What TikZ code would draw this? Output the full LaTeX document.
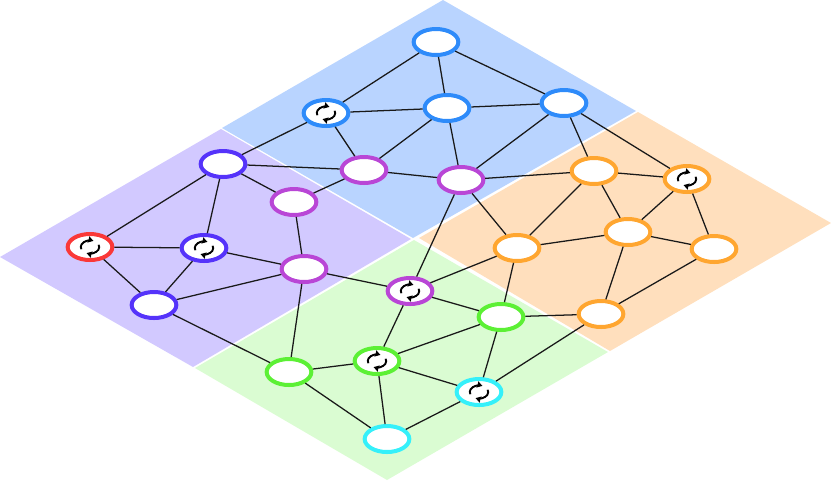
\documentclass[tikz,border=0pt]{standalone}
\usetikzlibrary{arrows.meta,shapes.geometric}
\definecolor{bluezone}{HTML}{B9D4FF}
\definecolor{purplezone}{HTML}{D2C9FF}
\definecolor{orangezone}{HTML}{FFDFBD}
\definecolor{greenzone}{HTML}{DAFCD2}
\definecolor{cblue}{HTML}{2E8BFA}
\definecolor{cpurple}{HTML}{B946D6}
\definecolor{cindigo}{HTML}{5533FA}
\definecolor{cred}{HTML}{FA3838}
\definecolor{corange}{HTML}{FFA630}
\definecolor{cgreen}{HTML}{5CF035}
\definecolor{ccyan}{HTML}{35F0FA}
\tikzset{
 x=0.75pt,y=-0.75pt,
 zone/.style={draw=none},
 host/.style={ellipse,draw=#1,fill=white,line width=3pt,minimum width=33.5pt,minimum height=19.5pt,inner sep=0pt},
 link/.style={line width=0.95pt,black!90},
 sync/.pic={
  \begin{scope}[x=0.75pt,y=0.75pt]
  \draw[line width=1.45pt,-{Stealth[length=4pt,width=4.8pt,inset=0.4pt]}] (200:9.2 and 6.6) arc[start angle=200,end angle=68,x radius=9.2,y radius=6.6];
  \draw[line width=1.45pt,-{Stealth[length=4pt,width=4.8pt,inset=0.4pt]}] (20:9.2 and 6.6) arc[start angle=20,end angle=-112,x radius=9.2,y radius=6.6];
  \end{scope}
 }
}
\begin{document}
\begin{tikzpicture}
\useasboundingbox (0,0) rectangle (831,480);
\fill[bluezone,zone] (443,0) -- (636,111) -- (413,238) -- (222,128) -- cycle;
\fill[purplezone,zone] (221,129) -- (411,239) -- (193,367) -- (0,257) -- cycle;
\fill[orangezone,zone] (638,112) -- (831,223) -- (610,351) -- (419,238) -- cycle;
\fill[greenzone,zone] (414,240) -- (608,352) -- (387,480) -- (195,368) -- cycle;
% nodes
\node[host=cblue] (b1) at (436,42) {};
\node[host=cblue] (b2) at (326,113) {};
\node[host=cblue] (b3) at (447,108) {};
\node[host=cblue] (b4) at (564,103) {};
\node[host=cpurple] (p1) at (364,170) {};
\node[host=cpurple] (p2) at (461,180) {};
\node[host=cpurple] (p3) at (294,202) {};
\node[host=cpurple] (p4) at (304,269) {};
\node[host=cpurple] (p5) at (410,291) {};
\node[host=cindigo] (i1) at (223,164) {};
\node[host=cindigo] (i2) at (204,248) {};
\node[host=cindigo] (i3) at (154,305) {};
\node[host=cred] (r1) at (90,247) {};
\node[host=corange] (o1) at (594,171) {};
\node[host=corange] (o2) at (687,179) {};
\node[host=corange] (o3) at (628,232) {};
\node[host=corange] (o4) at (517,248) {};
\node[host=corange] (o5) at (714,249) {};
\node[host=corange] (o6) at (601,314) {};
\node[host=cgreen] (g1) at (501,317) {};
\node[host=cgreen] (g2) at (377,361) {};
\node[host=cgreen] (g3) at (289,372) {};
\node[host=ccyan] (c1) at (479,392) {};
\node[host=ccyan] (c2) at (387,439) {};
% links
\foreach \a/\b in {b1/b2,b1/b3,b1/b4,b2/b3,b2/p1,b2/i1,b3/b4,b3/p1,b3/p2,b4/p2,b4/o1,b4/o2,
 i1/p1,i1/p3,i1/i2,i1/r1,p1/p2,p1/p3,p2/o1,p2/o4,p2/p5,o1/o2,o1/o3,o1/o4,o2/o3,o2/o5,
 o3/o4,o3/o5,o3/o6,o4/p5,o4/g1,o5/o6,o6/g1,o6/c1,p3/p4,p4/i2,p4/i3,p4/p5,p4/g3,r1/i2,r1/i3,i2/i3,
 i3/g3,p5/g1,p5/g2,g1/g2,g1/c1,g2/g3,g2/c1,g2/c2,g3/c2,c1/c2}
 \draw[link] (\a) -- (\b);
\foreach \n in {b2,p5,i2,r1,o2,g2,c1}
 \pic at (\n) {sync};
\end{tikzpicture}
\end{document}
